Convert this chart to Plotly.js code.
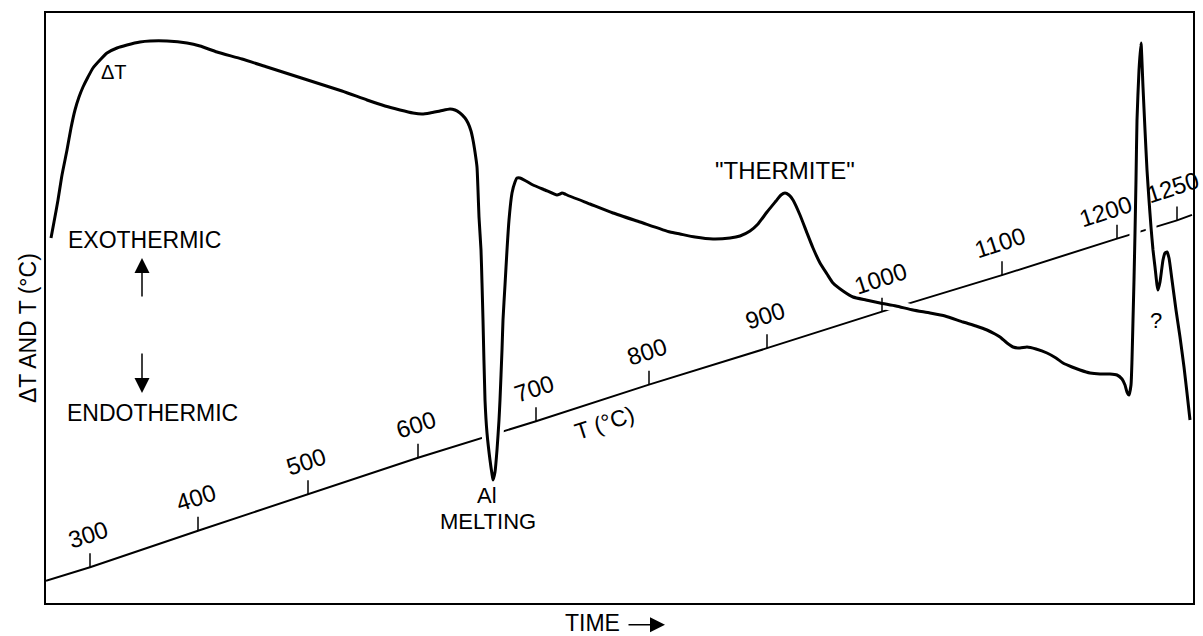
<!DOCTYPE html>
<html>
<head>
<meta charset="utf-8">
<script src="https://cdn.plot.ly/plotly-3.0.1.min.js"></script>
<style>html,body{margin:0;padding:0;background:#fff;}#chart{width:1203px;height:636px;}</style>
</head>
<body>
<div id="chart"></div>
<script>
// ΔT curve (time in arbitrary units, ΔT in arbitrary units)
const dtTime = [51,54,58,62,67,71,75,79,83,88,93,100,107,117,127,140,150,167,187,200,217,242,267,292,317,342,367,385,400,413,422,430,440,450,455,460,465,468,471,473,475,477,478,479,481,482,483,485,487,490,492,493,495,497,499,500,502,503,505,507,509,512,515,517,520,526,533,545,557,560,562,565,567,590,613,640,670,680,695,713,730,740,750,758,767,776,781,785,789,793,800,807,813,820,827,833,843,853,866,880,896,913,930,945,963,976,987,995,1000,1007,1013,1020,1027,1036,1047,1056,1063,1072,1080,1090,1100,1110,1117,1122,1125,1127,1129,1131,1132,1133,1134,1135,1136,1137,1139,1141,1143,1145,1147,1149,1151,1153,1155,1157,1158,1160,1163,1165,1167,1169,1172,1176,1180,1184,1187,1190];
const dtVals = [365,381,403,428,453,475,493,506,516,526,535,543,550,555,558,561,562,562,560,557,551,544,536,528,520,512,503,497,493,490,489,490,492,494,493,490,485,480,472,463,451,436,413,386,353,320,283,203,170,143,129,123,131,153,183,203,253,283,318,353,383,410,421,425,425,422,418,413,408,409,410,409,408,399,390,381,371,369,366,364,365,367,372,379,391,402,408,410,408,403,388,370,355,340,329,320,312,306,303,300,297,293,290,287,281,277,273,269,266,260,256,255,256,254,250,245,240,236,233,230,229,229,228,224,218,211,208,218,243,283,323,370,423,483,533,560,516,473,433,403,376,353,336,318,313,321,343,350,351,345,323,293,266,236,210,183];

// Temperature line (T in °C vs time)
const tLineTime = [46,90,198,308,418,536,649,767,882,1002,1117,1177,1192];
const tLineVals = [263,300,400,500,600,700,800,900,1000,1100,1200,1250,1265];
// labelled temperature ticks
const tTickTime = [90,198,308,418,536,649,767,882,1002,1117,1177];
const tTickVals = [300,400,500,600,700,800,900,1000,1100,1200,1250];
const tTickText = ['300','400','500','600','700','800','900','1000','1100','1200','1250'];

const FONT = 'Liberation Sans, Arial, sans-serif';
const INK = '#000';

const traces = [
  {x: tLineTime, y: tLineVals, type: 'scatter', mode: 'lines',
   line: {color: INK, width: 2}, hoverinfo: 'skip', showlegend: false},
  {x: dtTime, y: dtVals, yaxis: 'y2', type: 'scatter', mode: 'lines',
   line: {color: '#fff', width: 11, shape: 'spline', smoothing: 0.5}, hoverinfo: 'skip', showlegend: false},
  {x: dtTime, y: dtVals, yaxis: 'y2', type: 'scatter', mode: 'lines',
   line: {color: INK, width: 3, shape: 'spline', smoothing: 0.5}, name: 'ΔT', showlegend: false}
];

const shapes = tTickTime.map((t, i) => ({
  type: 'line', xref: 'x', yref: 'y', ysizemode: 'pixel', yanchor: tTickVals[i],
  x0: t, x1: t, y0: 0, y1: 14, line: {color: INK, width: 1.5}, layer: 'above'
}));

const labelShift = {'1200': {x: -12, y: 27}, '1250': {x: -5, y: 33}};
const annotations = tTickTime.map((t, i) => {
  const s = labelShift[tTickText[i]] || {x: -2, y: 33};
  return {xref: 'x', yref: 'y', x: t, y: tTickVals[i], text: tTickText[i], showarrow: false,
    textangle: -18, xshift: s.x, yshift: s.y, font: {family: FONT, size: 24, color: INK}};
});

function txt(x, y, text, size, extra) {
  return Object.assign({xref: 'x', yref: 'y2', x: x, y: y, text: text, showarrow: false,
    font: {family: FONT, size: size, color: INK}}, extra || {});
}
function arrow(x, y, ax, ay) {
  return {xref: 'x', yref: 'y2', x: x, y: y, ax: ax, ay: ay, text: '', showarrow: true,
    arrowhead: 2, arrowsize: 2, arrowwidth: 1.5, arrowcolor: INK};
}
annotations.push(
  txt(114, 531, 'ΔT', 20),
  txt(144, 363, 'EXOTHERMIC', 23),
  txt(152, 190, 'ENDOTHERMIC', 23),
  txt(487, 108, 'Al', 22),
  txt(488, 82, 'MELTING', 22),
  txt(604, 180, 'T (°C)', 23, {textangle: -18}),
  txt(785, 433, '"THERMITE"', 24),
  txt(1156, 283, '?', 22),
  arrow(142, 345, 0, 40),
  arrow(142, 210, 0, -41),
  // outside the plotting area
  {xref: 'x', yref: 'paper', x: 592, y: -0.034, xanchor: 'center', yanchor: 'middle',
   text: 'TIME', showarrow: false, font: {family: FONT, size: 23, color: INK}},
  {xref: 'x', yref: 'paper', x: 665, y: -0.037, ax: -38, ay: 0, text: '', showarrow: true,
   arrowhead: 2, arrowsize: 2, arrowwidth: 1.5, arrowcolor: INK},
  {xref: 'paper', yref: 'y2', x: -0.0157, y: 275, xanchor: 'center', yanchor: 'middle',
   text: 'ΔT AND T (°C)', showarrow: false, textangle: -90,
   font: {family: FONT, size: 23, color: INK}}
);

const frame = {showgrid: false, zeroline: false, showticklabels: false, ticks: '',
  showline: true, mirror: true, linecolor: INK, linewidth: 2, fixedrange: true};

const layout = {
  width: 1203, height: 636,
  margin: {l: 46, r: 10, t: 13, b: 33},
  paper_bgcolor: '#fff', plot_bgcolor: '#fff',
  showlegend: false,
  xaxis: Object.assign({range: [46, 1193]}, frame),
  yaxis: Object.assign({range: [202, 1818]}, frame),
  yaxis2: Object.assign({range: [0, 590], overlaying: 'y'}, frame),
  shapes: shapes,
  annotations: annotations
};

Plotly.newPlot('chart', traces, layout, {staticPlot: true, displayModeBar: false});
</script>
</body>
</html>
